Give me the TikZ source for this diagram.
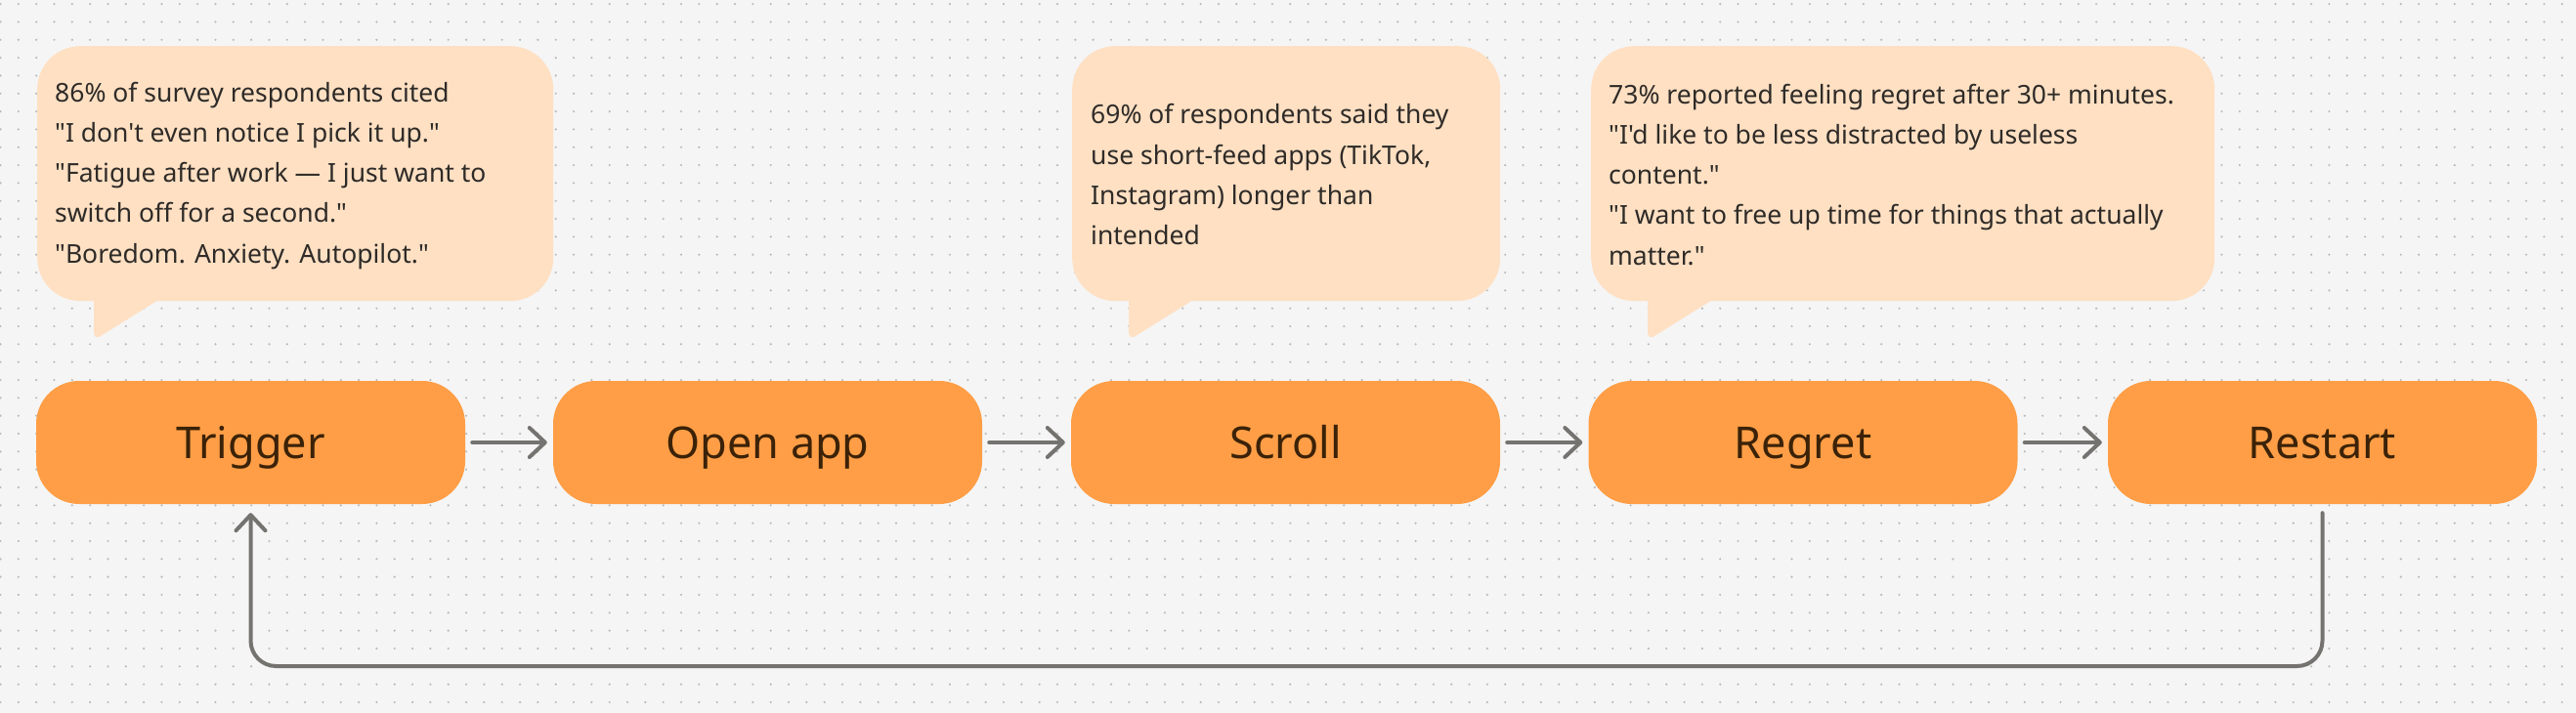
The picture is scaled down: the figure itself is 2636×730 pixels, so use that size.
\documentclass[tikz,border=0pt]{standalone}
\usepackage{fontspec}
\newfontfamily\uifont{Noto Sans}
\usetikzlibrary{arrows.meta}
\definecolor{bgc}{HTML}{F5F5F5}
\definecolor{dotc}{HTML}{BABABA}
\definecolor{boxfill}{HTML}{FF9E46}
\definecolor{boxtext}{HTML}{3B2208}
\definecolor{bubfill}{HTML}{FFE0C3}
\definecolor{bubtextc}{HTML}{2E2B28}
\definecolor{arrowc}{HTML}{757370}
\begin{document}
\begin{tikzpicture}[x=1pt,y=-1pt,
  stepbox/.style={rectangle, rounded corners=44pt, fill=boxfill, minimum width=439pt, minimum height=126pt, inner sep=0pt, text=boxtext, font=\uifont\fontsize{45}{54}\selectfont, text height=32pt, text depth=0pt},
  bubble/.style={rectangle, rounded corners=44pt, fill=bubfill, inner sep=0pt, minimum height=261pt, anchor=north west},
  bubtext/.style={anchor=west, align=left, inner sep=0pt, text=bubtextc, font=\uifont\fontsize{26.5}{41.2}\selectfont},
  arr/.style={draw=arrowc, line width=4pt, line cap=round, line join=round, -{Straight Barb[length=16pt,width=30pt,round]}},
  dotgrid/.style={draw=dotc, line width=2.4pt, line cap=round, dash pattern=on 0pt off 18.33pt}
]
\useasboundingbox (0,0) rectangle (2636,730);
\fill[bgc] (0,0) rectangle (2636,730);
\foreach \r in {0,...,39} \draw[dotgrid] (0.5,4.1+18.33*\r) -- (2636,4.1+18.33*\r);

% bubbles
\node[bubble, minimum width=528pt] (b1) at (38,47) {};
\node[bubble, minimum width=438pt] (b2) at (1097,47) {};
\node[bubble, minimum width=638pt] (b3) at (1628,47) {};
\foreach \b in {b1,b2,b3}
  \fill[bubfill, rounded corners=8pt] ([xshift=58pt,yshift=10pt]\b.south west) -- ([xshift=58pt,yshift=-40pt]\b.south west) -- ([xshift=138pt,yshift=10pt]\b.south west) -- cycle;

\node[bubtext] (t1) at ([xshift=18pt,yshift=-2pt]b1.west) {86\% of survey respondents cited\\"I don't even notice I pick it up."\\"Fatigue after work — I just want to\\switch off for a second."\\"Boredom. Anxiety. Autopilot."};
\node[bubtext] (t2) at ([xshift=19pt,yshift=-1pt]b2.west) {69\% of respondents said they\\use short-feed apps (TikTok,\\Instagram) longer than\\intended};
\node[bubtext] (t3) at ([xshift=18pt,yshift=-1pt]b3.west) {73\% reported feeling regret after 30+ minutes.\\"I'd like to be less distracted by useless\\content."\\"I want to free up time for things that actually\\matter."};

% steps
\node[stepbox] (trigger) at (256.5,453) {Trigger};
\node[stepbox] (open) at (785.5,453) {Open app};
\node[stepbox] (scroll) at (1315.5,453) {Scroll};
\node[stepbox] (regret) at (1845,453) {Regret};
\node[stepbox] (restart) at (2376.5,453) {Restart};

\draw[arr, shorten <=7pt, shorten >=6pt] (trigger) -- (open);
\draw[arr, shorten <=7pt, shorten >=6pt] (open) -- (scroll);
\draw[arr, shorten <=7pt, shorten >=6pt] (scroll) -- (regret);
\draw[arr, shorten <=7pt, shorten >=6pt] (regret) -- (restart);

\coordinate (loopbot) at (0,682);
\draw[arr, rounded corners=26pt] ([yshift=-9pt]restart.south) |- (loopbot -| trigger.south) -- ([yshift=-9pt]trigger.south);
\end{tikzpicture}
\end{document}
